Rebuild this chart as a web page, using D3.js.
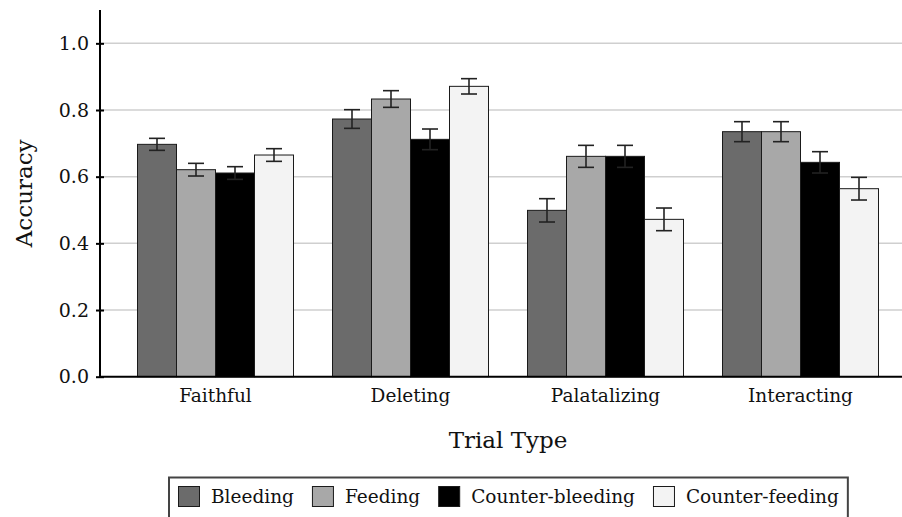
<script src="https://cdnjs.cloudflare.com/ajax/libs/d3/7.8.5/d3.min.js"></script>

<style type="text/css">
  body {
    margin: 0;
    background: #fff;
    font-family: "DejaVu Serif", serif;
  }

  .grid line {
    stroke: #cfcfcf;
    stroke-width: 1.5px;
  }

  .bar {
    stroke: #1a1a1a;
    stroke-width: 1px;
  }

  .err line {
    stroke: #222;
    stroke-width: 1.6px;
  }

  text {
    fill: #111;
  }
</style>

<body>
</body>

<script>

// values
var categories = ["Faithful", "Deleting", "Palatalizing", "Interacting"];
var series = ["Bleeding", "Feeding", "Counter-bleeding", "Counter-feeding"];

var bleeding        = [0.697, 0.773, 0.499, 0.735];
var feeding         = [0.621, 0.833, 0.661, 0.735];
var counterBleeding = [0.611, 0.712, 0.661, 0.643];
var counterFeeding  = [0.665, 0.871, 0.472, 0.564];

var bleedingErr        = [0.018, 0.028, 0.035, 0.030];
var feedingErr         = [0.019, 0.025, 0.033, 0.030];
var counterBleedingErr = [0.019, 0.031, 0.033, 0.032];
var counterFeedingErr  = [0.019, 0.023, 0.034, 0.034];

var yTicks = [0, 0.2, 0.4, 0.6, 0.8, 1.0];

var colors = ["#6b6b6b", "#a8a8a8", "#000000", "#f3f3f3"];

var values = [bleeding, feeding, counterBleeding, counterFeeding];
var errors = [bleedingErr, feedingErr, counterBleedingErr, counterFeedingErr];

var width = 902, height = 517;
var axisX = 100;

var svg = d3.select("body").append("svg")
    .attr("width", width)
    .attr("height", height);

var y = d3.scaleLinear()
    .domain([0, 1.1])
    .range([376.7, 10]);

var x0 = d3.scaleBand()
    .domain(categories)
    .range([118, 898])
    .paddingInner(0.2)
    .paddingOuter(0.1);

var x1 = d3.scaleBand()
    .domain(series)
    .range([0, x0.bandwidth()]);

// gridlines
svg.append("g")
    .attr("class", "grid")
  .selectAll("line")
    .data(yTicks.slice(1))
  .enter().append("line")
    .attr("x1", axisX)
    .attr("x2", width)
    .attr("y1", function(d) { return y(d); })
    .attr("y2", function(d) { return y(d); });

// flatten to one row per bar
var rows = [];
categories.forEach(function(c, i) {
  series.forEach(function(s, j) {
    rows.push({cat: c, ser: s, j: j, v: values[j][i], e: errors[j][i]});
  });
});

var bars = svg.append("g");

bars.selectAll("rect")
    .data(rows)
  .enter().append("rect")
    .attr("class", "bar")
    .attr("x", function(d) { return x0(d.cat) + x1(d.ser); })
    .attr("y", function(d) { return y(d.v); })
    .attr("width", x1.bandwidth())
    .attr("height", function(d) { return y(0) - y(d.v); })
    .attr("fill", function(d) { return colors[d.j]; });

var err = svg.append("g")
    .attr("class", "err")
  .selectAll("g")
    .data(rows)
  .enter().append("g")
    .attr("transform", function(d) {
      return "translate(" + (x0(d.cat) + x1(d.ser) + x1.bandwidth() / 2) + ",0)";
    });

err.append("line")
    .attr("y1", function(d) { return y(d.v + d.e); })
    .attr("y2", function(d) { return y(d.v - d.e); });

err.append("line")
    .attr("x1", -8).attr("x2", 8)
    .attr("y1", function(d) { return y(d.v + d.e); })
    .attr("y2", function(d) { return y(d.v + d.e); });

err.append("line")
    .attr("x1", -8).attr("x2", 8)
    .attr("y1", function(d) { return y(d.v - d.e); })
    .attr("y2", function(d) { return y(d.v - d.e); });

// y axis
var yAxis = svg.append("g")
    .attr("transform", "translate(" + axisX + ",0)")
    .call(d3.axisLeft(y).tickValues(yTicks).tickFormat(d3.format(".1f")).tickSize(4).tickPadding(7));

yAxis.select(".domain").remove();
yAxis.selectAll(".tick line")
    .attr("x1", 4)
    .attr("stroke", "#000")
    .attr("stroke-width", 2);
yAxis.selectAll(".tick text")
    .attr("font-family", "DejaVu Serif")
    .attr("font-size", 19)
    .attr("fill", "#111");

svg.append("line")
    .attr("x1", axisX).attr("x2", axisX)
    .attr("y1", y(1.1)).attr("y2", y(0) + 1)
    .attr("stroke", "#000")
    .attr("stroke-width", 2);

// x axis
svg.append("line")
    .attr("x1", axisX - 1).attr("x2", width)
    .attr("y1", y(0)).attr("y2", y(0))
    .attr("stroke", "#000")
    .attr("stroke-width", 2);

svg.append("g")
  .selectAll("text")
    .data(categories)
  .enter().append("text")
    .attr("x", function(d) { return x0(d) + x0.bandwidth() / 2; })
    .attr("y", 402)
    .attr("text-anchor", "middle")
    .attr("font-size", 18.5)
    .text(function(d) { return d; });

svg.append("text")
    .attr("x", (x0.range()[0] + x0.range()[1]) / 2)
    .attr("y", 448)
    .attr("text-anchor", "middle")
    .attr("font-size", 23)
    .text("Trial Type");

svg.append("text")
    .attr("transform", "translate(32," + ((y(0) + y(1.1)) / 2) + ") rotate(-90)")
    .attr("text-anchor", "middle")
    .attr("font-size", 23)
    .text("Accuracy");

// legend
var legend = svg.append("g");

var legendBox = legend.append("rect")
    .attr("x", 169)
    .attr("y", 477.5)
    .attr("height", 50)
    .attr("fill", "#fff")
    .attr("stroke", "#444")
    .attr("stroke-width", 2);

var lx = 178.5;
series.forEach(function(s, j) {
  legend.append("rect")
      .attr("x", lx)
      .attr("y", 486.5)
      .attr("width", 21)
      .attr("height", 20)
      .attr("fill", colors[j])
      .attr("stroke", "#1a1a1a")
      .attr("stroke-width", 1);
  var t = legend.append("text")
      .attr("x", lx + 32.5)
      .attr("y", 503)
      .attr("font-size", 18.5)
      .text(s);
  lx = lx + 32.5 + t.node().getComputedTextLength() + 18.5;
});

legendBox.attr("width", lx - 18.5 + 9 - 169);

</script>
